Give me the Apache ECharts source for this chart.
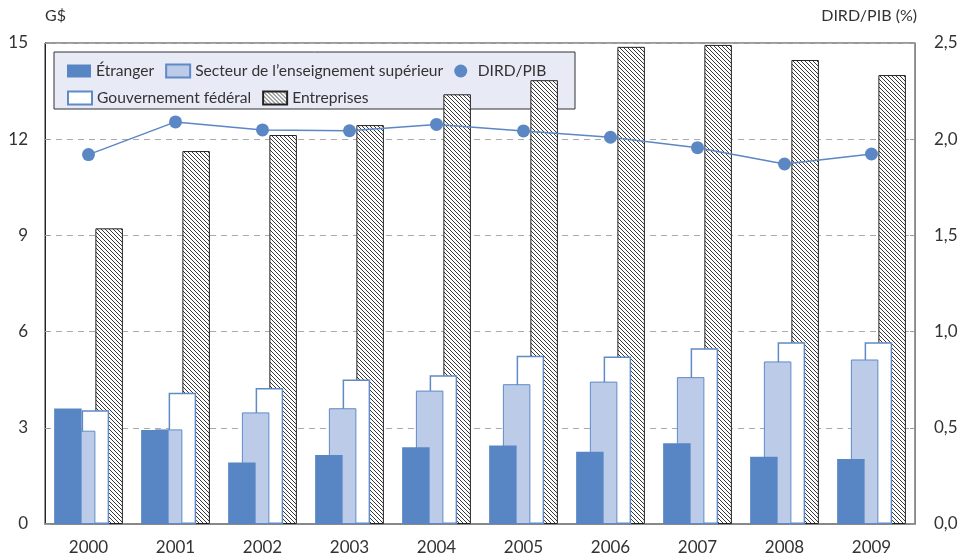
<!DOCTYPE html>
<html>
<head>
<meta charset="utf-8">
<script src="https://cdn.jsdelivr.net/npm/echarts@6/dist/echarts.min.js"></script>
<style>
  html, body { margin: 0; padding: 0; background: #fff; }
  #main { width: 962px; height: 560px; }
</style>
</head>
<body>
<div id="main"></div>
<script>
var years = ["2000", "2001", "2002", "2003", "2004", "2005", "2006", "2007", "2008", "2009"];
var etranger = [3.6, 2.93, 1.92, 2.15, 2.39, 2.45, 2.25, 2.52, 2.1, 2.03];
var superieur = [2.91, 2.95, 3.48, 3.61, 4.16, 4.36, 4.44, 4.58, 5.07, 5.13];
var federal = [3.55, 4.09, 4.24, 4.51, 4.64, 5.25, 5.22, 5.48, 5.67, 5.67];
var entreprises = [9.22, 11.63, 12.13, 12.44, 13.4, 13.84, 14.88, 14.94, 14.47, 14.0];
var dirdPib = [1.92, 2.09, 2.048, 2.044, 2.077, 2.043, 2.01, 1.956, 1.871, 1.923];

var FONT = "Lato, 'Noto Sans', sans-serif";

// hachures pour Entreprises
function hatch() {
    var c = document.createElement("canvas");
    c.width = 4;
    c.height = 4;
    var ctx = c.getContext("2d");
    ctx.fillStyle = "#fff";
    ctx.fillRect(0, 0, 4, 4);
    ctx.strokeStyle = "#222";
    ctx.lineWidth = 0.9;
    ctx.beginPath();
    ctx.moveTo(-1, -1); ctx.lineTo(5, 5);
    ctx.moveTo(-1, 3); ctx.lineTo(1, 5);
    ctx.moveTo(3, -1); ctx.lineTo(5, 1);
    ctx.stroke();
    return c;
}

var chart = echarts.init(document.getElementById("main"));
var hatchFill = { image: hatch(), repeat: "repeat" };

var legendText = { fontSize: 15.6, color: "#333", fontFamily: FONT };

var option = {
    animation: false,
    textStyle: { fontFamily: FONT },
    grid: {
        left: 45, right: 47, top: 43, bottom: 36,
        show: true, borderColor: "#333", borderWidth: 1
    },
    graphic: [
        {
            type: "rect", z: 0,
            shape: { x: 54, y: 52, width: 521, height: 57 },
            style: { fill: "#e8eaf6", stroke: "#333", lineWidth: 1 }
        },
        {
            type: "text", left: 45, top: 8,
            style: { text: "G$", font: "16px " + FONT, fill: "#333" }
        },
        {
            type: "text", right: 45, top: 8,
            style: { text: "DIRD/PIB (%)", font: "16px " + FONT, fill: "#333" }
        }
    ],
    legend: [
        {
            left: 62, top: 58, itemWidth: 24, itemHeight: 13, itemGap: 11,
            textStyle: legendText,
            data: [
                { name: "Étranger", icon: "rect" },
                { name: "Secteur de l’enseignement supérieur", icon: "rect" },
                { name: "DIRD/PIB", icon: "circle" }
            ]
        },
        {
            left: 62, top: 85, itemWidth: 24, itemHeight: 13, itemGap: 11,
            textStyle: legendText,
            data: [
                { name: "Gouvernement fédéral", icon: "rect" },
                { name: "Entreprises", icon: "rect" }
            ]
        }
    ],
    xAxis: {
        type: "category",
        data: years,
        axisLine: { lineStyle: { color: "#888", width: 2 } },
        axisTick: { inside: true, length: 7, lineStyle: { color: "#222" } },
        axisLabel: { fontSize: 17, color: "#333", margin: 15 }
    },
    yAxis: [
        {
            type: "value", min: 0, max: 15, interval: 3,
            axisLine: { show: true, lineStyle: { color: "#222" } },
            axisTick: { show: true, inside: true, length: 5, lineStyle: { color: "#999" } },
            axisLabel: { fontSize: 17, color: "#333", margin: 17 },
            splitLine: { lineStyle: { color: "#aaa", type: [6, 5] } }
        },
        {
            type: "value", min: 0, max: 2.5, interval: 0.5,
            axisLine: { show: true, lineStyle: { color: "#888" } },
            axisTick: { show: true, inside: true, length: 5, lineStyle: { color: "#999" } },
            axisLabel: {
                fontSize: 17, color: "#333", margin: 19,
                formatter: function (v) { return v.toFixed(1).replace(".", ","); }
            },
            splitLine: { show: false }
        }
    ],
    series: [
        {
            name: "Étranger", type: "bar", data: etranger, z: 5,
            barWidth: 27.5, barGap: "-50%",
            itemStyle: { color: "#5886c4", borderColor: "#5886c4", borderWidth: 0 }
        },
        {
            name: "Secteur de l’enseignement supérieur", type: "bar", data: superieur, z: 4,
            barWidth: 27.5, barGap: "-50%",
            itemStyle: { color: "#bccbe7", borderColor: "#5f8ac8", borderWidth: 1 }
        },
        {
            name: "Gouvernement fédéral", type: "bar", data: federal, z: 3,
            barWidth: 27.5, barGap: "-50%",
            itemStyle: { color: "#ffffff", borderColor: "#5f8ac8", borderWidth: 1.5 }
        },
        {
            name: "Entreprises", type: "bar", data: entreprises, z: 2,
            barWidth: 27.5, barGap: "-50%",
            itemStyle: { color: hatchFill, borderColor: "#222", borderWidth: 1 }
        },
        {
            name: "DIRD/PIB", type: "line", yAxisIndex: 1, data: dirdPib, z: 6,
            symbol: "circle", symbolSize: 13,
            lineStyle: { color: "#5b87c5", width: 1.5 },
            itemStyle: { color: "#5b87c5" }
        }
    ]
};

chart.setOption(option);
</script>
</body>
</html>
